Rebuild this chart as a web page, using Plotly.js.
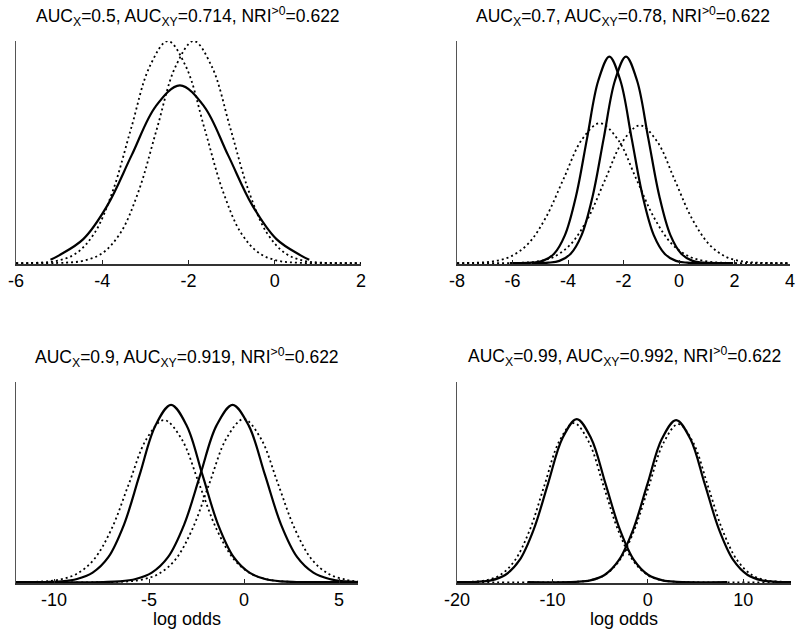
<!DOCTYPE html>
<html>
<head>
<meta charset="utf-8">
<script src="https://cdn.plot.ly/plotly-3.0.1.min.js"></script>
<style>html,body{margin:0;padding:0;background:#fff;}#chart{width:800px;height:629px;}</style>
</head>
<body>
<div id="chart"></div>
<script>
// ---------- panel titles and ticks ----------
const titles = [
  'AUC<sub>X</sub>=0.5, AUC<sub>XY</sub>=0.714, NRI<sup>&gt;0</sup>=0.622',
  'AUC<sub>X</sub>=0.7, AUC<sub>XY</sub>=0.78, NRI<sup>&gt;0</sup>=0.622',
  'AUC<sub>X</sub>=0.9, AUC<sub>XY</sub>=0.919, NRI<sup>&gt;0</sup>=0.622',
  'AUC<sub>X</sub>=0.99, AUC<sub>XY</sub>=0.992, NRI<sup>&gt;0</sup>=0.622'
];
const xLabel = 'log odds';
const ticks1 = [-6, -4, -2, 0, 2];
const ticks2 = [-8, -6, -4, -2, 0, 2, 4];
const ticks3 = [-10, -5, 0, 5];
const ticks4 = [-20, -10, 0, 10];
const ranges = [[-6, 2], [-8, 4], [-12, 6], [-20, 15]];

// ---------- panel 1 (AUC_X = 0.5) ----------
const p1_solid_x  = [-5.2, -5.0, -4.44, -3.88, -3.32, -2.76, -2.2, -1.64, -1.08, -0.52, 0.04, 0.6, 0.8];
const p1_solid_y  = [0.015, 0.035, 0.108, 0.260, 0.485, 0.706, 0.80, 0.706, 0.485, 0.260, 0.108, 0.035, 0.015];
const p1_dotA_x   = [-6, -5.455, -5.03, -4.605, -4.18, -3.755, -3.33, -2.905, -2.48, -2.055, -1.63, -1.205, -0.78, -0.355, 0.07, 0.495, 2];
const p1_dotA_y   = [0, 0.002, 0.011, 0.044, 0.135, 0.325, 0.607, 0.883, 1.0, 0.883, 0.607, 0.325, 0.135, 0.044, 0.011, 0.002, 0];
const p1_dotB_x   = [-6, -4.855, -4.43, -4.005, -3.58, -3.155, -2.73, -2.305, -1.88, -1.455, -1.03, -0.605, -0.18, 0.245, 0.67, 1.095, 2];
const p1_dotB_y   = [0, 0.002, 0.011, 0.044, 0.135, 0.325, 0.607, 0.883, 1.0, 0.883, 0.607, 0.325, 0.135, 0.044, 0.011, 0.002, 0];

// ---------- panel 2 (AUC_X = 0.7) ----------
const p2_solidA_x = [-6.1, -5.31, -4.91, -4.51, -4.11, -3.71, -3.31, -2.91, -2.51, -2.11, -1.71, -1.31, -0.91, -0.51, -0.11, 0.29, 1.2];
const p2_solidA_y = [0, 0.002, 0.010, 0.041, 0.126, 0.302, 0.564, 0.821, 0.93, 0.821, 0.564, 0.302, 0.126, 0.041, 0.010, 0.002, 0];
const p2_solidB_x = [-5.3, -4.71, -4.31, -3.91, -3.51, -3.11, -2.71, -2.31, -1.91, -1.51, -1.11, -0.71, -0.31, 0.09, 0.49, 0.89, 1.95];
const p2_solidB_y = [0, 0.002, 0.010, 0.041, 0.126, 0.302, 0.564, 0.821, 0.93, 0.821, 0.564, 0.302, 0.126, 0.041, 0.010, 0.002, 0];
const p2_dotA_x   = [-8, -7.4, -6.75, -6.1, -5.45, -4.8, -4.15, -3.5, -2.85, -2.2, -1.55, -0.9, -0.25, 0.4, 1.05, 1.7, 4];
const p2_dotA_y   = [0, 0.0014, 0.007, 0.028, 0.085, 0.205, 0.382, 0.556, 0.63, 0.556, 0.382, 0.205, 0.085, 0.028, 0.007, 0.0014, 0];
const p2_dotB_x   = [-8, -5.785, -5.16, -4.535, -3.91, -3.285, -2.66, -2.035, -1.41, -0.785, -0.16, 0.465, 1.09, 1.715, 2.34, 2.965, 4];
const p2_dotB_y   = [0, 0.0014, 0.007, 0.027, 0.084, 0.201, 0.376, 0.547, 0.62, 0.547, 0.376, 0.201, 0.084, 0.027, 0.007, 0.0014, 0];

// ---------- panel 3 (AUC_X = 0.9) ----------
const p3_solidA_x = [-12, -10.44, -9.615, -8.79, -7.965, -7.14, -6.315, -5.49, -4.665, -3.84, -3.015, -2.19, -1.365, -0.54, 0.285, 1.11, 1.935, 2.76, 6];
const p3_solidA_y = [0, 0.001, 0.004, 0.016, 0.048, 0.125, 0.288, 0.537, 0.782, 0.886, 0.782, 0.537, 0.288, 0.125, 0.048, 0.016, 0.004, 0.001, 0];
const p3_solidB_x = [-12, -7.4, -6.55, -5.7, -4.85, -4.0, -3.15, -2.3, -1.45, -0.6, 0.25, 1.1, 1.95, 2.8, 3.65, 4.5, 5.35, 6];
const p3_solidB_y = [0, 0.001, 0.004, 0.016, 0.048, 0.125, 0.288, 0.537, 0.782, 0.886, 0.782, 0.537, 0.288, 0.125, 0.048, 0.016, 0.004, 0.001];
const p3_dotA_x   = [-12, -10.685, -9.76, -8.835, -7.91, -6.985, -6.06, -5.135, -4.21, -3.285, -2.36, -1.435, -0.51, 0.415, 1.34, 2.265, 6];
const p3_dotA_y   = [0, 0.003, 0.012, 0.040, 0.112, 0.263, 0.491, 0.715, 0.81, 0.715, 0.491, 0.263, 0.112, 0.040, 0.012, 0.003, 0];
const p3_dotB_x   = [-12, -6.32, -5.42, -4.52, -3.62, -2.72, -1.82, -0.92, -0.02, 0.88, 1.78, 2.68, 3.58, 4.48, 5.38, 6];
const p3_dotB_y   = [0, 0.003, 0.012, 0.040, 0.112, 0.265, 0.494, 0.719, 0.815, 0.719, 0.494, 0.265, 0.112, 0.040, 0.012, 0.004];

// ---------- panel 4 (AUC_X = 0.99) ----------
const p4_solidA_x = [-20, -17.95, -16.45, -14.95, -13.45, -11.95, -10.45, -8.95, -7.45, -5.95, -4.45, -2.95, -1.45, 0.05, 1.55, 3.05, 8.3];
const p4_solidA_y = [0, 0.002, 0.009, 0.036, 0.110, 0.265, 0.494, 0.719, 0.815, 0.719, 0.494, 0.265, 0.110, 0.036, 0.009, 0.002, 0];
const p4_solidB_x = [-12.6, -7.54, -6.04, -4.54, -3.04, -1.54, -0.04, 1.46, 2.96, 4.46, 5.96, 7.46, 8.96, 10.46, 11.96, 13.46, 15];
const p4_solidB_y = [0, 0.002, 0.009, 0.036, 0.110, 0.263, 0.491, 0.715, 0.81, 0.715, 0.491, 0.263, 0.110, 0.036, 0.009, 0.002, 0];
const p4_dotA_x   = [-20, -18.6, -17.05, -15.5, -13.95, -12.4, -10.85, -9.3, -7.75, -6.2, -4.65, -3.1, -1.55, 0.0, 1.55, 3.1, 15];
const p4_dotA_y   = [0, 0.002, 0.009, 0.035, 0.108, 0.258, 0.482, 0.702, 0.795, 0.702, 0.482, 0.258, 0.108, 0.035, 0.009, 0.002, 0];
const p4_dotB_x   = [-20, -7.65, -6.1, -4.55, -3.0, -1.45, 0.1, 1.65, 3.2, 4.75, 6.3, 7.85, 9.4, 10.95, 12.5, 14.05, 15];
const p4_dotB_y   = [0, 0.002, 0.009, 0.035, 0.107, 0.257, 0.479, 0.697, 0.79, 0.697, 0.479, 0.257, 0.107, 0.035, 0.009, 0.002, 0];

// ---------- build traces ----------
const SOLID = {color: '#000', width: 2.2, shape: 'spline', smoothing: 1};
const DOT = {color: '#000', width: 1.8, dash: '2px,3px', shape: 'spline', smoothing: 1};
function tr(x, y, line, k) {
  const suf = k === 1 ? '' : String(k);
  return {x: x, y: y, type: 'scatter', mode: 'lines', line: line, xaxis: 'x' + suf, yaxis: 'y' + suf, hoverinfo: 'skip'};
}
const data = [
  tr(p1_dotA_x, p1_dotA_y, DOT, 1), tr(p1_dotB_x, p1_dotB_y, DOT, 1), tr(p1_solid_x, p1_solid_y, SOLID, 1),
  tr(p2_dotA_x, p2_dotA_y, DOT, 2), tr(p2_dotB_x, p2_dotB_y, DOT, 2),
  tr(p2_solidA_x, p2_solidA_y, SOLID, 2), tr(p2_solidB_x, p2_solidB_y, SOLID, 2),
  tr(p3_dotA_x, p3_dotA_y, DOT, 3), tr(p3_dotB_x, p3_dotB_y, DOT, 3),
  tr(p3_solidA_x, p3_solidA_y, SOLID, 3), tr(p3_solidB_x, p3_solidB_y, SOLID, 3),
  tr(p4_dotA_x, p4_dotA_y, DOT, 4), tr(p4_dotB_x, p4_dotB_y, DOT, 4),
  tr(p4_solidA_x, p4_solidA_y, SOLID, 4), tr(p4_solidB_x, p4_solidB_y, SOLID, 4)
];

// ---------- layout ----------
const W = 800, H = 629;
const FONT = '"Liberation Sans", Arial, Helvetica, sans-serif';
function xa(dom, range, tv, anchor, withTitle) {
  const a = {
    domain: dom, range: range, anchor: anchor,
    tickvals: tv, ticktext: tv.map(v => String(v)),
    ticks: 'inside', ticklen: 4, tickwidth: 1, tickcolor: '#222',
    showline: true, linecolor: '#333', linewidth: 1.5,
    showgrid: false, zeroline: false, fixedrange: true,
    tickfont: {family: FONT, size: 18, color: '#000'}
  };
  if (withTitle) a.title = {text: xLabel, font: {family: FONT, size: 18, color: '#000'}, standoff: 0};
  return a;
}
function ya(dom, anchor) {
  return {
    domain: dom, range: [-0.004, 1.0], anchor: anchor,
    showline: true, linecolor: '#555', linewidth: 1.5,
    ticks: '', showticklabels: false, showgrid: false, zeroline: false, fixedrange: true
  };
}
const colL = [16 / W, 361 / W], colR = [457 / W, 790 / W];
const colL3 = [16 / W, 358 / W], colR4 = [457 / W, 791 / W];
const rowT = [1 - 264 / H, 1 - 41 / H], rowB = [1 - 583 / H, 1 - 382 / H];

function titleAnn(i, xc, ypx) {
  return {text: titles[i], xref: 'paper', yref: 'paper', x: xc / W, y: 1 - ypx / H,
          xanchor: 'center', yanchor: 'middle', showarrow: false,
          font: {family: FONT, size: 17.5, color: '#000'}};
}

const layout = {
  width: W, height: H,
  margin: {l: 0, r: 0, t: 0, b: 0, pad: 0},
  paper_bgcolor: '#fff', plot_bgcolor: '#fff',
  showlegend: false,
  font: {family: FONT, size: 18, color: '#000'},
  xaxis: xa(colL, ranges[0], ticks1, 'y', false),
  yaxis: ya(rowT, 'x'),
  xaxis2: xa(colR, ranges[1], ticks2, 'y2', false),
  yaxis2: ya(rowT, 'x2'),
  xaxis3: xa(colL3, ranges[2], ticks3, 'y3', true),
  yaxis3: ya(rowB, 'x3'),
  xaxis4: xa(colR4, ranges[3], ticks4, 'y4', true),
  yaxis4: ya(rowB, 'x4'),
  annotations: [
    titleAnn(0, 188, 17), titleAnn(1, 623, 17),
    titleAnn(2, 187, 357), titleAnn(3, 624, 356)
  ]
};

Plotly.newPlot('chart', data, layout, {displayModeBar: false, staticPlot: true});
</script>
</body>
</html>
